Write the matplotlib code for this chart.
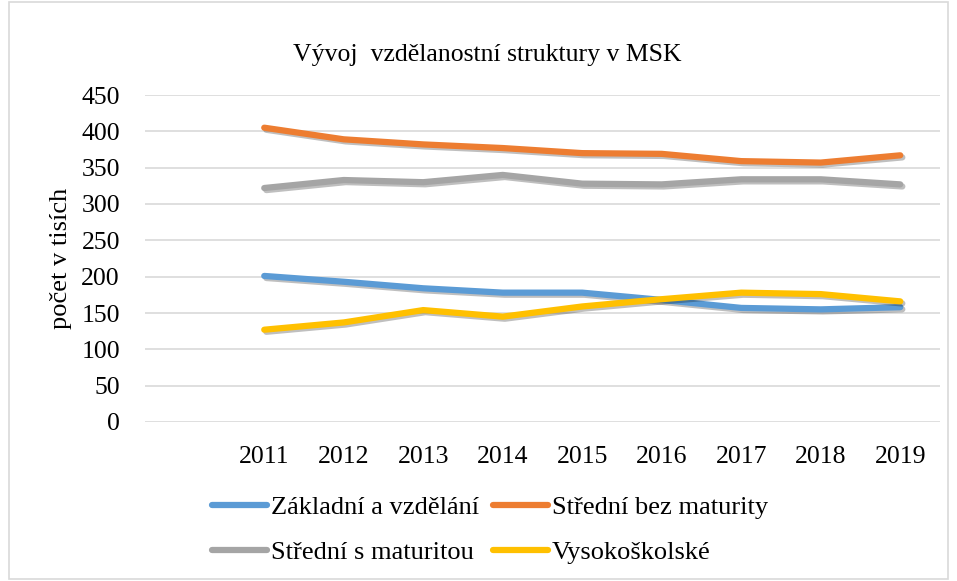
import matplotlib
matplotlib.use("Agg")
import matplotlib.pyplot as plt
import matplotlib.patheffects as pe
from matplotlib.patches import Rectangle
import numpy as np

years = ["2011", "2012", "2013", "2014", "2015", "2016", "2017", "2018", "2019"]
zakladni = [201, 193, 184, 178, 178, 168, 157, 155, 158]
stredni_bez = [405, 389, 382, 377, 370, 369, 359, 357, 367]
stredni_s = [322, 333, 330, 340, 328, 327, 334, 334, 327]
vysokoskolske = [127, 137, 154, 145, 159, 169, 178, 176, 166]

series_names = ["Základní a vzdělání", "Střední bez maturity",
                "Střední s maturitou", "Vysokoškolské"]
colors = ["#5B9BD5", "#ED7D31", "#A5A5A5", "#FFC000"]

plt.rcParams['font.family'] = ['Liberation Serif', 'DejaVu Serif']

fig = plt.figure(figsize=(9.57, 5.81), dpi=100)
ax = fig.add_axes([145/957, 1-422/581, (940-145)/957, (422-95)/581])

x = np.arange(1, len(years) + 1)
shadow = [pe.SimpleLineShadow(offset=(1.5, -1.5), shadow_color='black', alpha=0.25), pe.Normal()]
lines = []
for vals, name, c in zip([zakladni, stredni_bez, stredni_s, vysokoskolske], series_names, colors):
    ln, = ax.plot(x, vals, color=c, lw=4.5, solid_capstyle='round', label=name,
                  path_effects=shadow)
    lines.append(ln)

ax.set_xlim(-0.5, len(years) + 0.5)
ax.set_ylim(0, 450)
ax.set_yticks(range(0, 451, 50))
ax.set_xticks(x)
ax.set_xticklabels(years)
ax.tick_params(axis='both', length=0, labelsize=18.5, colors='black')
ax.tick_params(axis='x', pad=17)
ax.tick_params(axis='y', pad=18)
ax.grid(axis='y', color='#D9D9D9', lw=1.2)
ax.set_axisbelow(True)
for s in ax.spines.values():
    s.set_visible(False)

ax.set_ylabel("počet v tisích", fontsize=19, labelpad=7)
fig.text(487/957, 1-55/581, "Vývoj  vzdělanostní struktury v MSK", ha='center', va='center', fontsize=18.5)

order = [0, 2, 1, 3]
leg = fig.legend([lines[i] for i in order], [series_names[i] for i in order],
                 loc='center', bbox_to_anchor=(490/957, 1-530/581), ncol=2, frameon=False,
                 fontsize=19, handlelength=2.1, handletextpad=0.15, columnspacing=0.5,
                 labelspacing=0.8)
for h in leg.get_lines():
    h.set_linewidth(4.5)
    h.set_solid_capstyle('round')
    h.set_path_effects([])

fig.patches.append(Rectangle((9/957, 0.003), 1-18/957, 0.994, transform=fig.transFigure,
                             fill=False, edgecolor='#D9D9D9', lw=1.2))

fig.savefig("out.png", dpi=100)
